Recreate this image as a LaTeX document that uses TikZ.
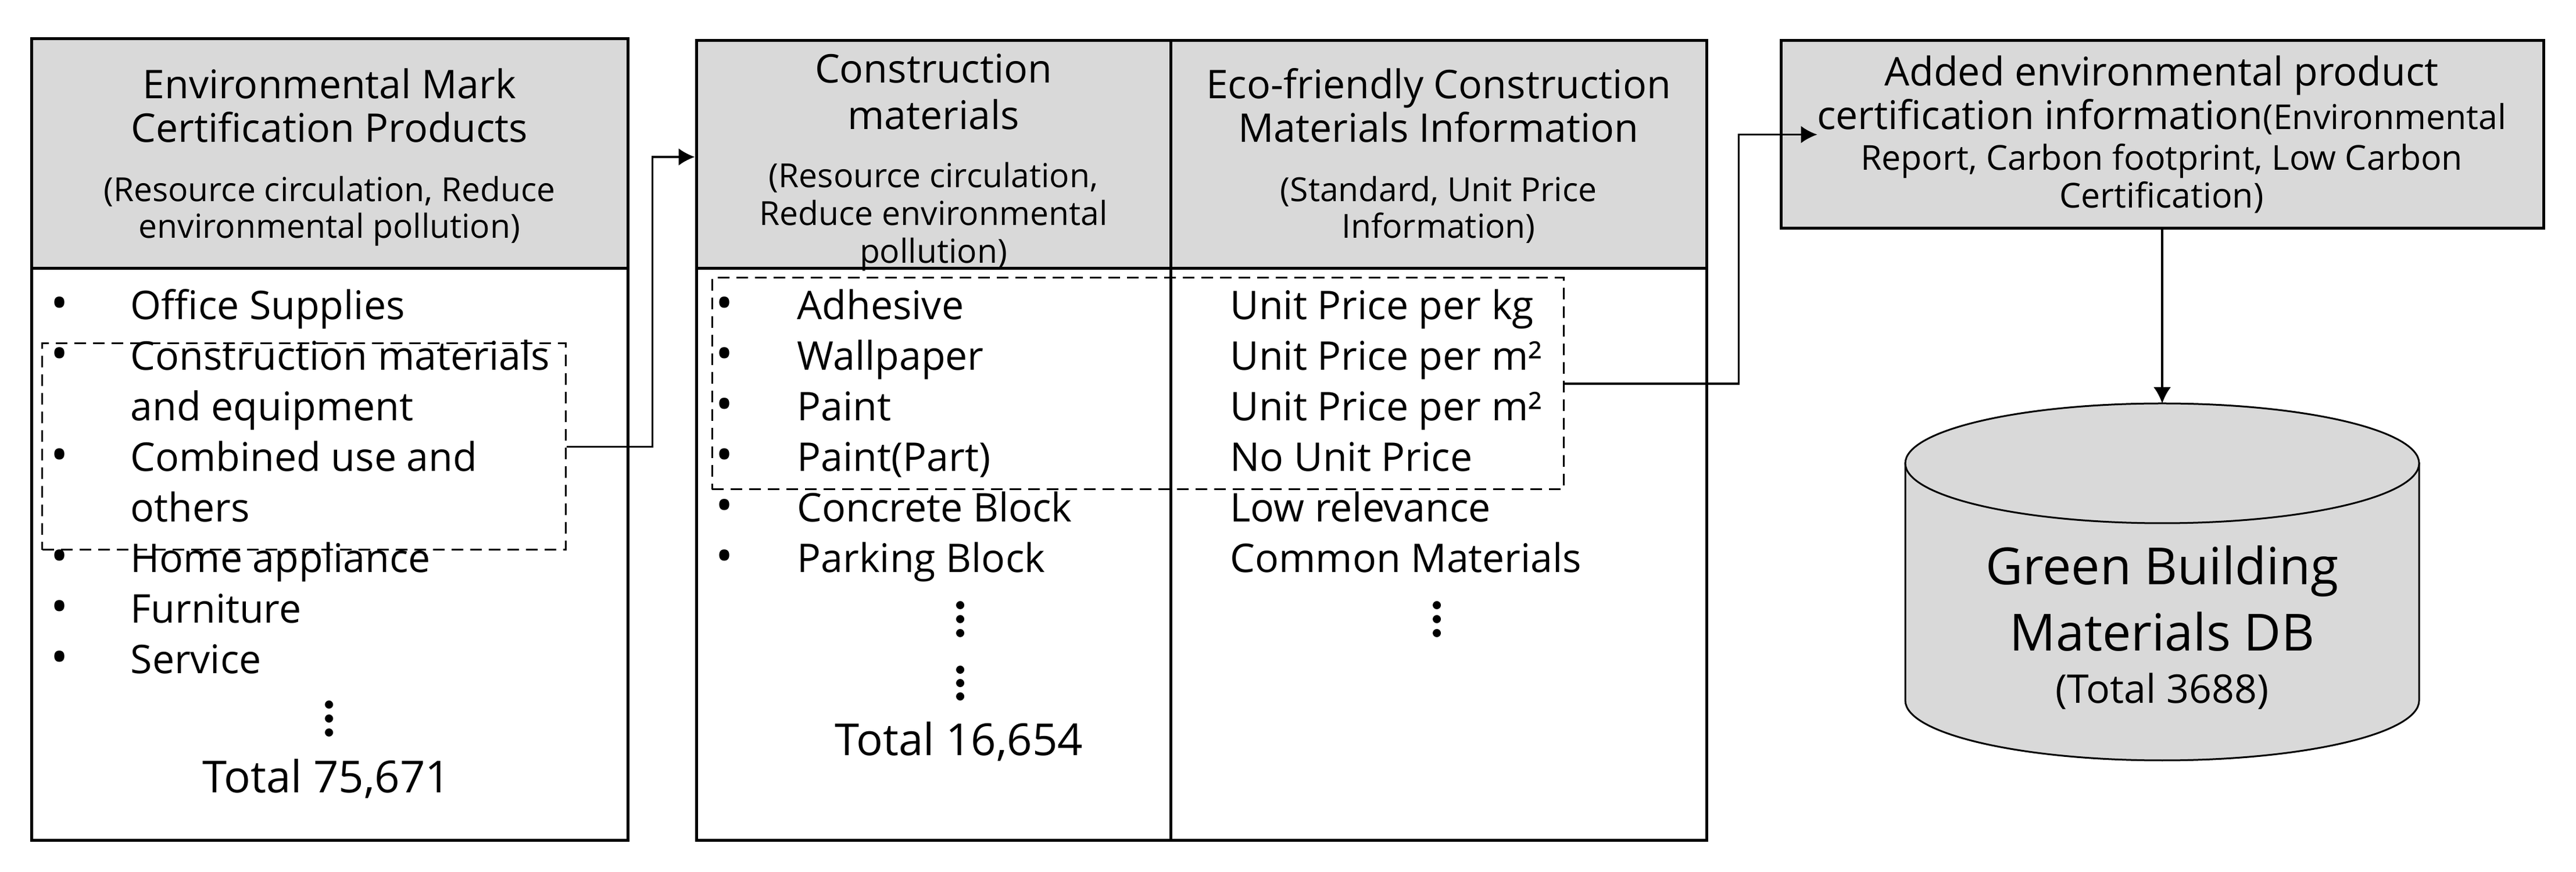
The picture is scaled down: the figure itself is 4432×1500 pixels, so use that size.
\documentclass[tikz,border=0pt]{standalone}
\usepackage{fontspec}
\setmainfont{Open Sans}
\usetikzlibrary{arrows.meta}
\definecolor{hdgray}{RGB}{217,217,217}

\begin{document}
\begin{tikzpicture}[x=0.2pt,y=-0.2pt,
    box/.style={draw,line width=1pt,inner sep=0pt},
    selbox/.style={draw,dash pattern=on 4pt off 2.4pt,line width=0.6pt,inner sep=0pt},
    arr/.style={-{Latex[length=5.6pt,width=6pt]},line width=0.7pt},
    ttl/.style={anchor=base,font=\fontsize{13.6}{16}\selectfont},
    sub/.style={anchor=base,font=\fontsize{11.4}{13}\selectfont},
    itm/.style={anchor=base west,font=\fontsize{13.6}{16}\selectfont},
    bul/.style={anchor=base,font=\fontsize{16}{18}\selectfont},
    tot/.style={anchor=base,font=\fontsize{15.2}{18}\selectfont}]
\useasboundingbox (0,0) rectangle (4432,1500);
% grey header fields
\fill[hdgray] (55,67) rectangle (1080,462);
\fill[hdgray] (1198,70) rectangle (2936,462);
\fill[hdgray] (3064,70) rectangle (4376,393);
% boxes
\node[box,minimum width=205pt,minimum height=275.6pt] (certbox) at (567.5,756) {};
\node[box,minimum width=347.6pt,minimum height=275pt] (matbox) at (2067,757.5) {};
\node[box,minimum width=262.4pt,minimum height=64.6pt] (addbox) at (3720,231.5) {};
\draw[line width=1pt] (55,462) -- (1080,462);
\draw[line width=1pt] (1198,462) -- (2936,462);
\draw[line width=1pt] (2014,70) -- (2014,1445);

% left box
\node[ttl] (hA1) at (567,170) {Environmental Mark};
\node[ttl] (hA2) at (567,245) {Certification Products};
\node[sub] (sA1) at (567,347) {(Resource circulation, Reduce};
\node[sub] (sA2) at (567,410) {environmental pollution)};
\foreach \y/\t [count=\i] in {550/Office Supplies,637/Construction materials,
    811/Combined use and,985/Home appliance,1072/Furniture,1159/Service}
  {\node[bul] (bA\i) at (103,\y) {•};
   \node[itm] (iA\i) at (207,\y) {\t};}
\node[itm] (iA7) at (207,724) {and equipment};
\node[itm] (iA8) at (207,898) {others};
\foreach \y in {1212,1236,1260} \fill (566,\y) circle (1.4pt);
\node[tot] (totA) at (562,1364) {Total 75,671};
\node[selbox,minimum width=180pt,minimum height=71pt] (selA) at (523,768.5) {};

% middle table
\node[ttl] (hB1) at (1606,143) {Construction};
\node[ttl] (hB2) at (1606,223) {materials};
\node[sub] (sB1) at (1606,323) {(Resource circulation,};
\node[sub] (sB2) at (1606,388) {Reduce environmental};
\node[sub] (sB3) at (1606,453) {pollution)};
\node[ttl] (hC1) at (2475,170) {Eco-friendly Construction};
\node[ttl] (hC2) at (2475,245) {Materials Information};
\node[sub] (sC1) at (2475,347) {(Standard, Unit Price};
\node[sub] (sC2) at (2475,410) {Information)};
\foreach \y/\t/\u [count=\i] in {550/Adhesive/Unit Price per kg,637/Wallpaper/Unit Price per m²,
    724/Paint/Unit Price per m²,811/Paint(Part)/No Unit Price,
    898/Concrete Block/Low relevance,985/Parking Block/Common Materials}
  {\node[bul] (bB\i) at (1247,\y) {•};
   \node[itm] (iB\i) at (1354,\y) {\t};
   \node[itm] (iC\i) at (2099,\y) {\u};}
\foreach \y in {1041,1065,1089,1152,1175,1198} \fill (1652,\y) circle (1.4pt);
\foreach \y in {1041,1065,1089} \fill (2472,\y) circle (1.4pt);
\node[tot] (totB) at (1650,1300) {Total 16,654};
\node[selbox,minimum width=293pt,minimum height=72.8pt] (selB) at (1957.5,660) {};

% added information box
\node[ttl] (hD1) at (3719,148) {Added environmental product};
\node[ttl] (hD2) at (3719,223) {certification information{\fontsize{11.8}{14}\selectfont(Environmental}};
\node[sub,font=\fontsize{11.8}{14}\selectfont] (sD1) at (3719,293) {Report, Carbon footprint, Low Carbon};
\node[sub,font=\fontsize{11.8}{14}\selectfont] (sD2) at (3719,358) {Certification)};

% database cylinder
\filldraw[fill=hdgray,line width=0.6pt] (3278,797) -- (3278,1205)
  arc[start angle=180,end angle=360,x radius=88.4pt,y radius=20.6pt] -- (4162,797) -- cycle;
\filldraw[fill=hdgray,line width=0.6pt] (3720,797) ellipse [x radius=88.4pt,y radius=20.6pt];
\coordinate (dbtop) at (3720,694);
\node[anchor=base,font=\fontsize{17.6}{20}\selectfont] (db1) at (3720,1006) {Green Building};
\node[anchor=base,font=\fontsize{17.6}{20}\selectfont] (db2) at (3720,1120) {Materials DB};
\node[anchor=base,font=\fontsize{13.6}{16}\selectfont] (db3) at (3720,1210) {(Total 3688)};

% connectors
\coordinate (inB) at (1198,270);
\draw[arr] (selA.east) -- ++(148,0) |- (matbox.west |- inB);
\draw[arr,shorten >=-13pt] (selB.east) -- ++(300,0) |- (addbox.west);
\draw[arr] (addbox.south) -- (dbtop);
\end{tikzpicture}
\end{document}
